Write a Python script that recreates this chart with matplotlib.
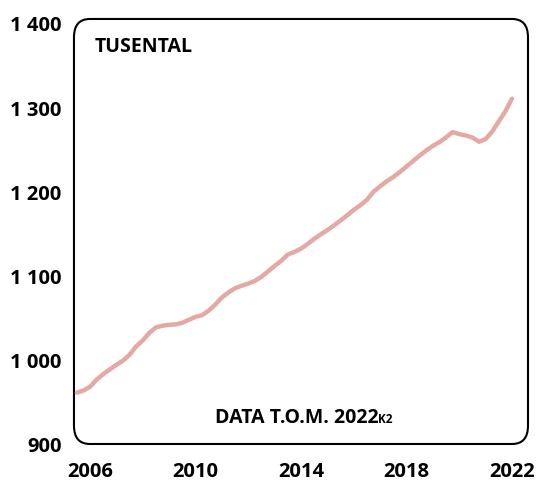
import numpy as np
import matplotlib
matplotlib.use('Agg')
import matplotlib.pyplot as plt
from matplotlib.patches import FancyBboxPatch

plt.rcParams['font.family'] = ['Open Sans', 'DejaVu Sans']
plt.rcParams['font.weight'] = 'bold'

# quarterly values, 2005K3 .. 2022K1 position (thousands)
start_year = 2005.5
values = [961, 963.5, 968, 976.5, 983, 988.5, 994, 999, 1006, 1016,
          1023, 1032, 1038.5, 1040.5, 1041.5, 1042, 1044, 1047.5, 1051, 1053,
          1058.5, 1065.5, 1074, 1080, 1085, 1088, 1090.5, 1093.6, 1098.5, 1105,
          1111.5, 1117.5, 1125, 1128, 1132, 1137.5, 1143.5, 1149, 1154, 1159.5,
          1165.5, 1171.5, 1178, 1183.5, 1190, 1199.5, 1206, 1212, 1217, 1223,
          1229.5, 1236, 1242.5, 1248.5, 1254, 1258.5, 1264, 1270.5, 1268, 1266.5,
          1264, 1259, 1262, 1271, 1283, 1295, 1310]
x_ticks = [2006, 2010, 2014, 2018, 2022]
y_ticks = [900, 1000, 1100, 1200, 1300, 1400]

t = start_year + 0.25*np.arange(len(values))

fig = plt.figure(figsize=(5.38, 4.85), dpi=100)
ax = fig.add_axes([0.1375, 0.0825, 0.8439, 0.8763])
ax.plot(t, values, color='#E5A9A3', lw=3.2, solid_capstyle='round')

ax.set_xlim(2005.39, 2022.61)
ax.set_ylim(900, 1404.75)
ax.set_xticks(x_ticks)
ax.set_xticklabels([str(x) for x in x_ticks])
ax.set_yticks(y_ticks)
ax.set_yticklabels([('%d' % y) if y < 1000 else '%d %03d' % (y//1000, y % 1000) for y in y_ticks])
ax.tick_params(length=0, labelsize=14.5)
ax.tick_params(axis='x', pad=12.5)
ax.tick_params(axis='y', pad=9)
for s in ax.spines.values():
    s.set_visible(False)

# rounded frame
box = FancyBboxPatch((0, 0), 1, 1, boxstyle='round,pad=0,rounding_size=0.035',
                     transform=ax.transAxes, fill=False, ec='black', lw=1.5,
                     clip_on=False, mutation_aspect=0.5/0.45*538/485)
ax.add_patch(box)

ax.text(0.045, 0.937, 'TUSENTAL', transform=ax.transAxes, fontsize=14,
        fontweight='bold', va='center', ha='left')
t1 = ax.text(0.67, 0.064, 'DATA T.O.M. 2022', transform=ax.transAxes,
             fontsize=14, fontweight='bold', va='center', ha='right')
ax.annotate('K2', xy=(1, 0.08), xycoords=t1, fontsize=8.5, fontweight='bold',
            va='bottom', ha='left')

plt.savefig('out.png', dpi=100)
